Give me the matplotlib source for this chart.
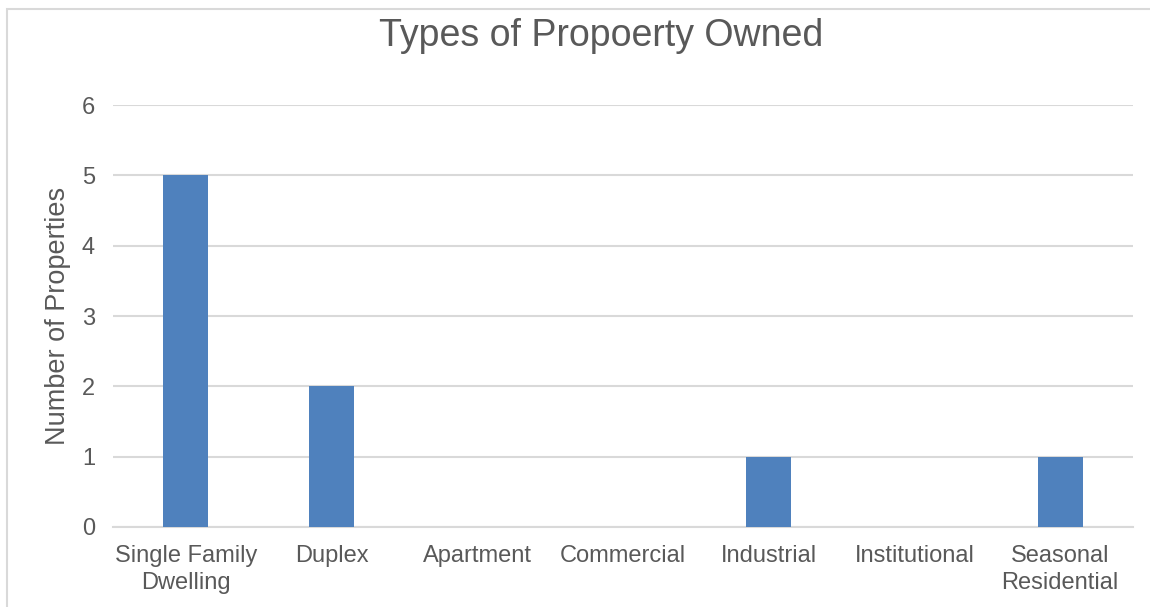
import matplotlib.pyplot as plt
from matplotlib.patches import Rectangle

# property counts by type
categories = ['Single Family\nDwelling', 'Duplex', 'Apartment', 'Commercial',
              'Industrial', 'Institutional', 'Seasonal\nResidential']
counts = [5, 2, 0, 0, 1, 0, 1]
yticks = [0, 1, 2, 3, 4, 5, 6]

text_color = '#595959'
grid_color = '#D9D9D9'
bar_color = '#4F81BD'

plt.rcParams['font.family'] = ['Liberation Sans', 'DejaVu Sans']
plt.rcParams['font.size'] = 15

fig = plt.figure(figsize=(11.5, 6.07), dpi=100)
ax = fig.add_axes([0.0983, 0.1318, 0.8869, 0.6952])

x = range(len(categories))
ax.bar(x, counts, width=0.31, color=bar_color, zorder=3)

ax.set_xlim(-0.5, len(categories) - 0.5)
ax.set_ylim(0, 6)
ax.set_yticks(yticks)
ax.set_xticks(list(x))
ax.set_xticklabels(categories, color=text_color, fontsize=17, linespacing=1.3)
ax.tick_params(axis='y', length=0, pad=13, labelcolor=text_color, labelsize=17)
ax.tick_params(axis='x', length=0, pad=13)
ax.grid(axis='y', color=grid_color, linewidth=1.5, zorder=0)
for side in ['top', 'right', 'left']:
    ax.spines[side].set_visible(False)
ax.spines['bottom'].set_color(grid_color)
ax.spines['bottom'].set_linewidth(1.5)

ax.set_ylabel('Number of Properties', color=text_color, fontsize=19.5, labelpad=8)

fig.text(601 / 1150, 1 - 36 / 607, 'Types of Propoerty Owned', ha='center',
         va='center', fontsize=27, color=text_color)

# chart frame
fig.patches.append(Rectangle((7 / 1150, -0.1), 1.2, 1 - 9 / 607 + 0.1,
                             transform=fig.transFigure, fill=False,
                             edgecolor=grid_color, linewidth=1.5))

fig.savefig('out.png', dpi=100)
